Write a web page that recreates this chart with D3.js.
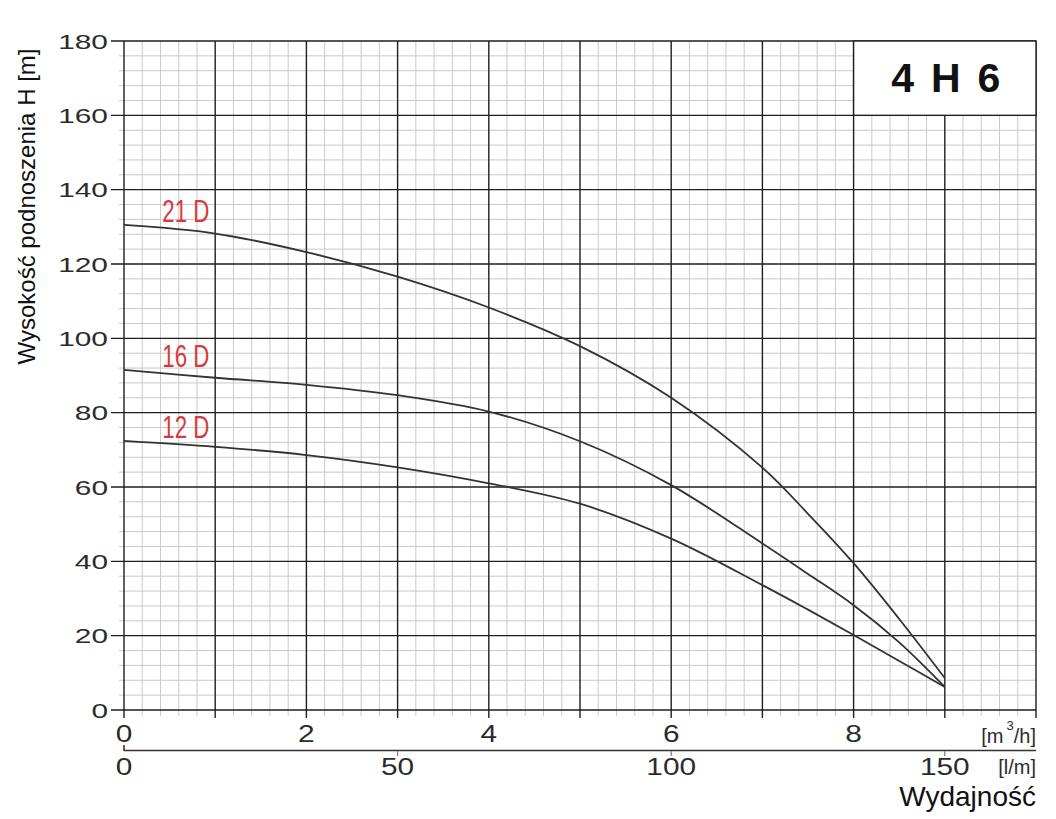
<!DOCTYPE html>
<html>
<head>
<meta charset="utf-8">
<script src="https://cdn.jsdelivr.net/npm/d3@7"></script>
<style>
  html, body { margin: 0; padding: 0; background: #fff; }
  svg { display: block; font-family: "Liberation Sans", Arial, Helvetica, sans-serif; }
</style>
</head>
<body>
<svg id="chart" width="1056" height="819"></svg>
<script>
// ---- data ----
const flow = [0, 1, 2, 3, 4, 5, 6, 7, 7.5, 8, 8.5, 9];            // m3/h
const head21D = [130.5, 128.2, 123.2, 116.6, 108.3, 97.9, 84.0, 65.2, 52.8, 39.5, 24.5, 8.6];
const head16D = [91.5, 89.4, 87.5, 84.7, 80.3, 72.3, 60.5, 44.8, 36.6, 28.2, 18.2, 6.2];
const head12D = [72.4, 70.8, 68.6, 65.3, 61.0, 55.5, 46.1, 33.6, 27.0, 20.2, 13.2, 6.2];
const seriesNames = ["21 D", "16 D", "12 D"];
const yTicks = [0, 20, 40, 60, 80, 100, 120, 140, 160, 180];
const xTicksM3h = [0, 2, 4, 6, 8];
const xTicksLm = [0, 50, 100, 150];
const title = "4 H 6";
const yLabel = "Wysokość podnoszenia H [m]";
const xLabel = "Wydajność";

// ---- layout ----
const svg = d3.select("#chart");
const pL = 124, pR = 1036, pT = 41, pB = 710;
const x = d3.scaleLinear().domain([0, 10]).range([pL, pR]);
const y = d3.scaleLinear().domain([0, 180]).range([pB, pT]);
const xLm = d3.scaleLinear().domain([0, 10 * 1000 / 60]).range([pL, pR]); // l/min

const minorColor = "#c9c9c9", majorColor = "#1e1e1e", textColor = "#2b2b2b";

// minor grid
const g = svg.append("g");
g.selectAll("line.vmin").data(d3.range(0, 10.001, 0.2).filter(v => Math.abs(v - Math.round(v)) > 1e-6))
  .join("line").attr("class", "vmin")
  .attr("x1", d => x(d)).attr("x2", d => x(d))
  .attr("y1", pT).attr("y2", pB + 6)
  .attr("stroke", minorColor).attr("stroke-width", 1);
g.selectAll("line.hmin").data(d3.range(0, 180.001, 4).filter(v => v % 20 !== 0))
  .join("line").attr("class", "hmin")
  .attr("x1", pL - 5).attr("x2", pR)
  .attr("y1", d => y(d)).attr("y2", d => y(d))
  .attr("stroke", minorColor).attr("stroke-width", 1);

// major grid
g.selectAll("line.vmaj").data(d3.range(0, 11, 1))
  .join("line").attr("class", "vmaj")
  .attr("x1", d => x(d)).attr("x2", d => x(d))
  .attr("y1", pT).attr("y2", pB + 8)
  .attr("stroke", majorColor).attr("stroke-width", 1.4);
g.selectAll("line.hmaj").data(yTicks)
  .join("line").attr("class", "hmaj")
  .attr("x1", pL - 13).attr("x2", pR)
  .attr("y1", d => y(d)).attr("y2", d => y(d))
  .attr("stroke", majorColor).attr("stroke-width", 1.4);

// y tick labels
svg.append("g").selectAll("text").data(yTicks).join("text")
  .attr("x", pL - 16).attr("y", d => y(d) + 7.5)
  .attr("text-anchor", "end")
  .attr("font-size", 21).attr("fill", textColor)
  .attr("textLength", d => String(d).length * 16.6)
  .attr("lengthAdjust", "spacingAndGlyphs")
  .text(d => d);

// x tick labels m3/h
svg.append("g").selectAll("text").data(xTicksM3h).join("text")
  .attr("x", d => x(d)).attr("y", 742)
  .attr("text-anchor", "middle")
  .attr("font-size", 23).attr("fill", textColor)
  .attr("textLength", d => String(d).length * 16.6)
  .attr("lengthAdjust", "spacingAndGlyphs")
  .text(d => d);

// m3/h unit
const unit1 = svg.append("text").attr("x", pR).attr("y", 743)
  .attr("text-anchor", "end").attr("font-size", 20).attr("fill", textColor);
unit1.append("tspan").text("[m");
unit1.append("tspan").attr("font-size", 13).attr("dy", -13).attr("dx", 3).text("3");
unit1.append("tspan").attr("dy", 13).text("/h]");

// second axis (l/min)
svg.append("line").attr("x1", pL).attr("x2", pR).attr("y1", 750.5).attr("y2", 750.5)
  .attr("stroke", "#333").attr("stroke-width", 1.6);
svg.append("line").attr("x1", pL).attr("x2", pL).attr("y1", 745).attr("y2", 751)
  .attr("stroke", "#333").attr("stroke-width", 1.6);
svg.append("g").selectAll("line").data(xTicksLm.slice(1)).join("line")
  .attr("x1", d => xLm(d)).attr("x2", d => xLm(d)).attr("y1", 751).attr("y2", 756)
  .attr("stroke", "#777").attr("stroke-width", 1.2);
svg.append("g").selectAll("text").data(xTicksLm).join("text")
  .attr("x", d => xLm(d)).attr("y", 775)
  .attr("text-anchor", "middle")
  .attr("font-size", 23).attr("fill", textColor)
  .attr("textLength", d => String(d).length * 16.6)
  .attr("lengthAdjust", "spacingAndGlyphs")
  .text(d => d);
svg.append("text").attr("x", pR).attr("y", 774).attr("text-anchor", "end")
  .attr("font-size", 20).attr("fill", textColor).text("[l/m]");

// axis titles
svg.append("text").attr("x", pR).attr("y", 806).attr("text-anchor", "end")
  .attr("font-size", 28).attr("fill", "#111").text(xLabel);
svg.append("text")
  .attr("transform", `translate(35, ${(pT + 372) / 2}) rotate(-90)`)
  .attr("text-anchor", "middle")
  .attr("font-size", 24).attr("fill", "#111")
  .text(yLabel);

// curves
const series = [head21D, head16D, head12D];
const line = d3.line().x((d, i) => x(flow[i])).y(d => y(d)).curve(d3.curveCatmullRom.alpha(0.5));
svg.append("g").selectAll("path").data(series).join("path")
  .attr("d", d => line(d))
  .attr("fill", "none").attr("stroke", "#333").attr("stroke-width", 1.8);

// series labels
svg.append("g").selectAll("text").data(series).join("text")
  .attr("x", x(0.42)).attr("y", d => y(d[0]) - 3)
  .attr("font-size", 31).attr("fill", "#d63b3b")
  .attr("textLength", 47).attr("lengthAdjust", "spacingAndGlyphs")
  .text((d, i) => seriesNames[i]);

// title box
svg.append("rect").attr("x", x(8)).attr("y", y(180)).attr("width", x(10) - x(8)).attr("height", y(160) - y(180))
  .attr("fill", "#fff").attr("stroke", majorColor).attr("stroke-width", 1.4);
svg.append("text").attr("x", (x(8) + x(10)) / 2 + 1).attr("y", 92)
  .attr("text-anchor", "middle").attr("font-size", 41).attr("font-weight", "bold").attr("fill", "#111")
  .attr("textLength", 109).attr("lengthAdjust", "spacing")
  .text(title);
</script>
</body>
</html>
